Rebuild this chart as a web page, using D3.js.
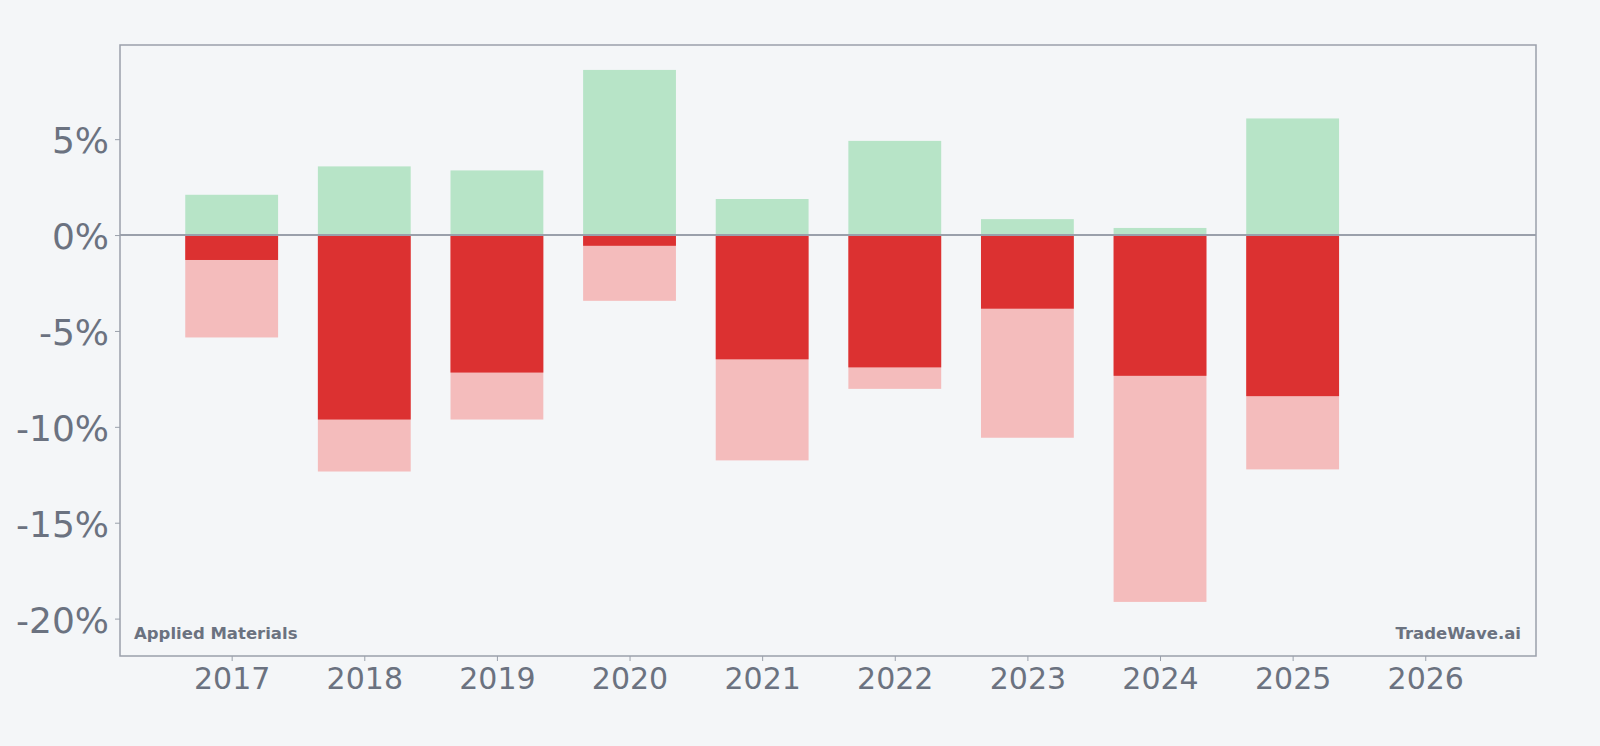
<!DOCTYPE html>
<html><head><meta charset="utf-8">
<script src="https://cdn.jsdelivr.net/npm/d3@7"></script>
<style>
html,body{margin:0;padding:0;background:#f4f6f8;}
svg{display:block;font-family:"DejaVu Sans",sans-serif;}
</style></head><body>
<svg id="chart" width="1600" height="746"></svg>
<script>
const years = [2017, 2018, 2019, 2020, 2021, 2022, 2023, 2024, 2025];
const tickYears = [2017, 2018, 2019, 2020, 2021, 2022, 2023, 2024, 2025, 2026];
const maxGain = [2.1, 3.58, 3.37, 8.61, 1.88, 4.91, 0.83, 0.37, 6.08];
const closeReturn = [-1.3, -9.62, -7.17, -0.56, -6.48, -6.9, -3.84, -7.34, -8.4];
const maxDrawdown = [-5.34, -12.33, -9.62, -3.43, -11.75, -8.02, -10.57, -19.13, -12.22];
const yTicks = [5, 0, -5, -10, -15, -20];
const leftLabel = "Applied Materials";
const rightLabel = "TradeWave.ai";

const svg = d3.select("#chart");
const L = 120, R = 1536, T = 45, B = 656;
const x = d3.scaleLinear().domain([2016.158, 2026.835]).range([L, R]);
const y = d3.scaleLinear().domain([-21.95, 9.91]).range([B, T]);
const bw = x(2017.35) - x(2016.65);

const g = svg.append("g");
const data = years.map((yr, i) => ({yr, g: maxGain[i], c: closeReturn[i], d: maxDrawdown[i]}));

g.selectAll(".dd").data(data).enter().append("rect")
  .attr("x", d => x(d.yr) - bw/2).attr("width", bw)
  .attr("y", y(0)).attr("height", d => y(d.d) - y(0))
  .attr("fill", "#f4bcbc");
g.selectAll(".cr").data(data).enter().append("rect")
  .attr("x", d => x(d.yr) - bw/2).attr("width", bw)
  .attr("y", y(0)).attr("height", d => y(d.c) - y(0))
  .attr("fill", "#dc3131");
g.selectAll(".mg").data(data).enter().append("rect")
  .attr("x", d => x(d.yr) - bw/2).attr("width", bw)
  .attr("y", d => y(d.g)).attr("height", d => y(0) - y(d.g))
  .attr("fill", "#b7e4c7");

// zero line
svg.append("line").attr("x1", L).attr("x2", R).attr("y1", y(0)).attr("y2", y(0))
  .attr("stroke", "#9aa0ab").attr("stroke-width", 2);

// axes
const yAxis = svg.append("g").attr("transform", `translate(${L},0)`)
  .call(d3.axisLeft(y).tickValues(yTicks).tickFormat(d => d + "%").tickSize(5).tickPadding(6));
const xAxis = svg.append("g").attr("transform", `translate(0,${B})`)
  .call(d3.axisBottom(x).tickValues(tickYears).tickFormat(d3.format("d")).tickSize(5).tickPadding(7));
[yAxis, xAxis].forEach(a => {
  a.select(".domain").remove();
  a.selectAll("line").attr("stroke", "#9aa0ab").attr("stroke-width", 1);
  a.selectAll("text").attr("fill", "#6b7280").attr("font-family", "DejaVu Sans");
});
yAxis.selectAll("text").attr("font-size", 36).attr("transform", "translate(0,2)");
xAxis.selectAll("text").attr("font-size", 30);

// frame
svg.append("rect").attr("x", L).attr("y", T).attr("width", R - L).attr("height", B - T)
  .attr("fill", "none").attr("stroke", "#9aa0ab").attr("stroke-width", 1.5);

svg.append("text").attr("x", 134).attr("y", 639).text(leftLabel)
  .attr("font-weight", "bold").attr("font-size", 16.5).attr("fill", "#6b7280");
svg.append("text").attr("x", 1521).attr("y", 639).attr("text-anchor", "end").text(rightLabel)
  .attr("font-weight", "bold").attr("font-size", 16.5).attr("fill", "#6b7280");
</script></body></html>
